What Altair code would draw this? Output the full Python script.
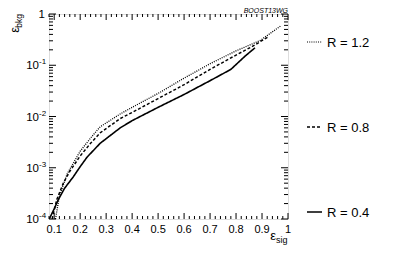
import altair as alt
import pandas as pd

# ---- data ----
sig_r04 = [0.081, 0.10, 0.115, 0.14, 0.173, 0.20, 0.227, 0.277, 0.354, 0.40, 0.50, 0.60, 0.70, 0.78, 0.835, 0.873]
bkg_r04 = [1.0e-4, 1.58e-4, 2.34e-4, 3.98e-4, 6.6e-4, 1.05e-3, 1.62e-3, 3.0e-3, 6.0e-3, 8.3e-3, 1.51e-2, 2.69e-2, 5.0e-2, 8.3e-2, 0.151, 0.219]

sig_r08 = [0.092, 0.11, 0.135, 0.16, 0.20, 0.24, 0.277, 0.354, 0.40, 0.50, 0.60, 0.70, 0.80, 0.86, 0.923]
bkg_r08 = [1.0e-4, 2.4e-4, 5.0e-4, 8.5e-4, 1.7e-3, 3.0e-3, 4.8e-3, 9.1e-3, 1.2e-2, 2.24e-2, 4.17e-2, 8.3e-2, 0.158, 0.229, 0.355]

sig_r12 = [0.105, 0.12, 0.15, 0.20, 0.24, 0.277, 0.354, 0.40, 0.50, 0.60, 0.70, 0.80, 0.892, 0.973]
bkg_r12 = [1.0e-4, 2.8e-4, 7.6e-4, 2.1e-3, 3.8e-3, 6.3e-3, 1.12e-2, 1.51e-2, 2.82e-2, 5.6e-2, 0.107, 0.191, 0.302, 0.589]

series_names = ["R = 0.4", "R = 0.8", "R = 1.2"]

x_major = [0.1, 0.2, 0.3, 0.4, 0.5, 0.6, 0.7, 0.8, 0.9, 1.0]
x_labels = ["0.1", "0.2", "0.3", "0.4", "0.5", "0.6", "0.7", "0.8", "0.9", "1"]
x_minor = [0.08, 0.12, 0.14, 0.16, 0.18, 0.22, 0.24, 0.26, 0.28, 0.32, 0.34, 0.36, 0.38,
           0.42, 0.44, 0.46, 0.48, 0.52, 0.54, 0.56, 0.58, 0.62, 0.64, 0.66, 0.68,
           0.72, 0.74, 0.76, 0.78, 0.82, 0.84, 0.86, 0.88, 0.92, 0.94, 0.96, 0.98]
y_major = [1e-4, 1e-3, 1e-2, 1e-1, 1.0]
y_minor = [k * d for d in [1e-4, 1e-3, 1e-2, 1e-1] for k in range(2, 10)]
y_label_vals = [1e-1, 1e-2, 1e-3, 1e-4]
y_label_exps = ["-1", "-2", "-3", "-4"]

W, H = 239, 205
xs = alt.Scale(domain=[0.08, 1.0], nice=False, zero=False)
ys = alt.Scale(type="log", domain=[1e-4, 1.0], nice=False)

rows = []
for name, sx, sy in [("R = 0.4", sig_r04, bkg_r04), ("R = 0.8", sig_r08, bkg_r08), ("R = 1.2", sig_r12, bkg_r12)]:
    for i, (a, b) in enumerate(zip(sx, sy)):
        rows.append({"R": name, "sig": a, "bkg": b, "o": i})
df = pd.DataFrame(rows)

FONT = "Liberation Sans"

lines = alt.Chart(df).mark_line(clip=True, color="black").encode(
    x=alt.X("sig:Q", scale=xs, axis=None),
    y=alt.Y("bkg:Q", scale=ys, axis=None),
    detail="R:N",
    order="o:Q",
    strokeDash=alt.StrokeDash("R:N", scale=alt.Scale(domain=series_names, range=[[1, 0], [3, 2], [1, 1.2]]), legend=None),
    strokeWidth=alt.StrokeWidth("R:N", scale=alt.Scale(domain=series_names, range=[1.6, 1.3, 1.0]), legend=None),
)

def ticks_y(vals, length):
    d = pd.DataFrame({"v": vals})
    left = alt.Chart(d).mark_rule(color="black", strokeWidth=1).encode(
        y=alt.Y("v:Q", scale=ys), x=alt.value(0), x2=alt.value(length))
    right = alt.Chart(d).mark_rule(color="black", strokeWidth=1).encode(
        y=alt.Y("v:Q", scale=ys), x=alt.value(W), x2=alt.value(W - length))
    return [left, right]

def ticks_x(vals, length):
    d = pd.DataFrame({"v": vals})
    bottom = alt.Chart(d).mark_rule(color="black", strokeWidth=1).encode(
        x=alt.X("v:Q", scale=xs), y=alt.value(H), y2=alt.value(H - length))
    top = alt.Chart(d).mark_rule(color="black", strokeWidth=1).encode(
        x=alt.X("v:Q", scale=xs), y=alt.value(0), y2=alt.value(length))
    return [bottom, top]

tick_layers = ticks_y(y_major, 7) + ticks_y(y_minor, 4) + ticks_x(x_major, 6) + ticks_x(x_minor, 3)

xlab = alt.Chart(pd.DataFrame({"v": x_major, "t": x_labels})).mark_text(
    align="center", baseline="top", fontSize=11, font=FONT).encode(
    x=alt.X("v:Q", scale=xs), y=alt.value(H + 5), text="t:N")

ylab = pd.DataFrame({"v": y_label_vals, "e": y_label_exps})
ylab_ten = alt.Chart(ylab).mark_text(align="right", baseline="middle", fontSize=11.5, font=FONT, dy=1).encode(
    y=alt.Y("v:Q", scale=ys), x=alt.value(-10), text=alt.value("10"))
ylab_exp = alt.Chart(ylab).mark_text(align="left", baseline="middle", fontSize=8, font=FONT, dy=-3).encode(
    y=alt.Y("v:Q", scale=ys), x=alt.value(-10), text="e:N")
ylab_one = alt.Chart(pd.DataFrame({"v": [1.0]})).mark_text(align="right", baseline="middle", fontSize=11.5, font=FONT, dy=1).encode(
    y=alt.Y("v:Q", scale=ys), x=alt.value(-4), text=alt.value("1"))

# axis titles
ytitle_e = alt.Chart(pd.DataFrame({"t": ["ε"]})).mark_text(angle=270, align="right", baseline="alphabetic", fontSize=13, font=FONT).encode(
    x=alt.value(-30), y=alt.value(13), text="t:N")
ytitle_s = alt.Chart(pd.DataFrame({"t": ["bkg"]})).mark_text(angle=270, align="right", baseline="alphabetic", fontSize=8.5, font=FONT).encode(
    x=alt.value(-27), y=alt.value(0), text="t:N")
xtitle_e = alt.Chart(pd.DataFrame({"t": ["ε"]})).mark_text(align="right", baseline="alphabetic", fontSize=13, font=FONT).encode(
    x=alt.value(227), y=alt.value(H + 21), text="t:N")
xtitle_s = alt.Chart(pd.DataFrame({"t": ["sig"]})).mark_text(align="left", baseline="alphabetic", fontSize=9, font=FONT).encode(
    x=alt.value(227), y=alt.value(H + 24), text="t:N")

stamp = alt.Chart(pd.DataFrame({"t": ["BOOST13WG"]})).mark_text(align="right", baseline="alphabetic", fontSize=7, font=FONT, fontStyle="italic").encode(
    x=alt.value(W), y=alt.value(-1), text="t:N")

# legend (manual)
leg_names = ["R = 1.2", "R = 0.8", "R = 0.4"]
leg_y = [28, 113, 198]
leg_dash = [[1, 1.2], [3, 2], [1, 0]]
leg_w = [1.0, 1.3, 1.6]
leg_layers = []
for n, yy, ds, sw in zip(leg_names, leg_y, leg_dash, leg_w):
    leg_layers.append(alt.Chart(pd.DataFrame({"t": [n]})).mark_rule(color="black", strokeDash=ds, strokeWidth=sw).encode(
        x=alt.value(258), x2=alt.value(273), y=alt.value(yy)))
    leg_layers.append(alt.Chart(pd.DataFrame({"t": [n]})).mark_text(align="left", baseline="middle", fontSize=13, font=FONT, dy=1).encode(
        x=alt.value(278), y=alt.value(yy), text="t:N"))

chart = alt.layer(
    lines, *tick_layers, xlab, ylab_ten, ylab_exp, ylab_one, ytitle_e, ytitle_s, xtitle_e, xtitle_s, stamp, *leg_layers
).properties(
    width=W, height=H,
    autosize=alt.AutoSizeParams(type="none"),
    padding={"left": 41, "top": 6, "right": 103, "bottom": 27},
).configure_view(stroke="black", strokeWidth=1).configure(background="white")

chart.save("out.html", embed_options={"renderer": "svg", "actions": False})
